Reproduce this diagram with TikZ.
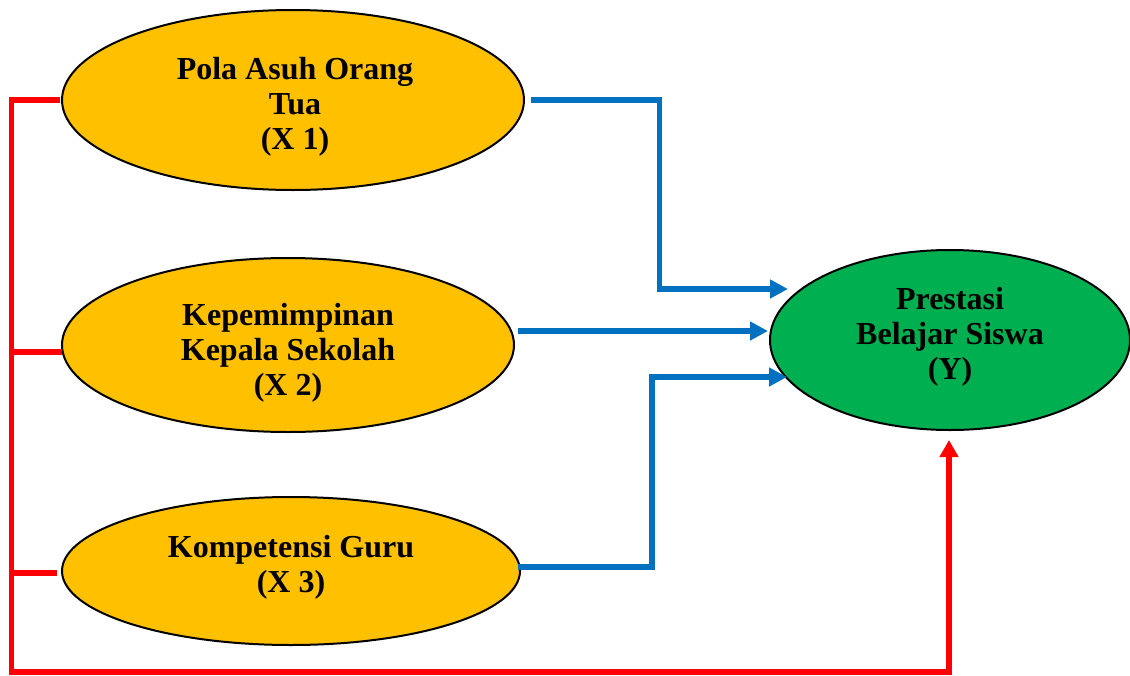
\documentclass[tikz,border=0pt]{standalone}
\usepackage{fontspec}
\setmainfont{Liberation Serif}
\usetikzlibrary{shapes.geometric,arrows.meta}
\definecolor{orng}{HTML}{FFC000}
\definecolor{grn}{HTML}{00B050}
\definecolor{blu}{HTML}{0070C0}
\definecolor{rd}{HTML}{FF0000}
\begin{document}
\begin{tikzpicture}[x=1pt,y=-1pt,
  varel/.style={ellipse,draw=black,line width=2pt,inner sep=0pt},
  vartext/.style={align=center,inner sep=0pt,font=\fontsize{32}{35}\selectfont\bfseries},
  blueline/.style={draw=blu,line width=5.5pt,line join=miter},
  redline/.style={draw=rd,line width=5.5pt,line join=miter},
  tipb/.style={-{Triangle[length=18pt,width=18pt]}}]
\useasboundingbox (0,0) rectangle (1130,675);
\node[varel,fill=orng,minimum width=462pt,minimum height=180pt] (e1) at (293,100) {};
\node[varel,fill=orng,minimum width=452pt,minimum height=174pt] (e2) at (288,345) {};
\node[varel,fill=orng,minimum width=458pt,minimum height=148pt] (e3) at (291,571) {};
\node[varel,fill=grn,minimum width=360pt,minimum height=180pt] (y) at (950,340) {};
\node[vartext] (t1) at ([xshift=2pt,yshift=-7pt]e1.center) {Pola Asuh Orang\\Tua\\(X 1)};
\node[vartext] (t2) at ([yshift=-8pt]e2.center) {Kepemimpinan\\Kepala Sekolah\\(X 2)};
\node[vartext] (t3) at ([yshift=4pt]e3.center) {Kompetensi Guru\\(X 3)};
\node[vartext] (ty) at ([yshift=3pt]y.center) {Prestasi\\Belajar Siswa\\(Y)};
% blue connectors
\coordinate (b1s) at (531,100);
\coordinate (b1e) at (788,289);
\coordinate (b2s) at (518,331);
\coordinate (b2e) at (768,331);
\coordinate (b3s) at (518,567);
\coordinate (b3e) at (787,377);
\draw[blueline,tipb] (b1s) -- (659.5,100) |- (b1e);
\draw[blueline,tipb] (b2s) -- (b2e);
\draw[blueline,tipb] (b3s) -- (652,567) |- (b3e);
% red connectors
\coordinate (r1) at (60,100);
\coordinate (r2) at (62,352);
\coordinate (r3) at (57,573);
\coordinate (rl) at (11.5,100);
\coordinate (ry) at (949,440);
\draw[redline,-{Triangle[length=17pt,width=18pt]}] (r1) -- (rl) -- (11.5,672) -| (ry);
\draw[redline] (r2) -- (11.5,352);
\draw[redline] (r3) -- (11.5,573);
\end{tikzpicture}
\end{document}
